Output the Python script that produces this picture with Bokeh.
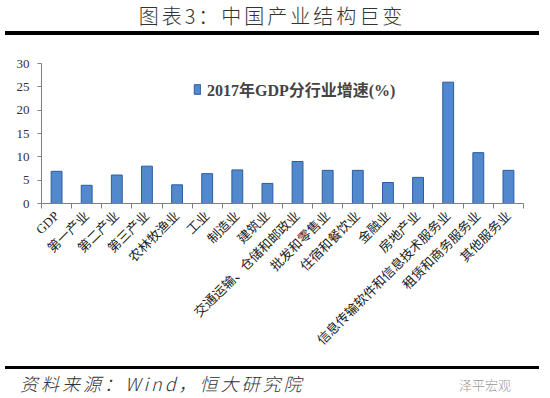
import math
from bokeh.plotting import figure
from bokeh.models import Div, FixedTicker, Range1d, Legend, LegendItem, ColumnDataSource
from bokeh.layouts import column
from bokeh.embed import file_html
from bokeh.resources import INLINE

categories = ["GDP", "第一产业", "第二产业", "第三产业", "农林牧渔业", "工业", "制造业", "建筑业",
              "交通运输、仓储和邮政业", "批发和零售业", "住宿和餐饮业", "金融业", "房地产业",
              "信息传输软件和信息技术服务业", "租赁和商务服务业", "其他服务业"]
values = [6.9, 3.9, 6.1, 8.0, 4.0, 6.4, 7.2, 4.3, 9.0, 7.1, 7.1, 4.5, 5.6, 26.0, 10.9, 7.1]
series_name = "2017年GDP分行业增速(%)"
y_ticks = [0, 5, 10, 15, 20, 25, 30]
title_text = "图表3：中国产业结构巨变"
source_text = "资料来源：Wind，恒大研究院"
watermark = "泽平宏观"

n = len(categories)
xs = list(range(n))

W = 534
title_div = Div(text=title_text, width=W, height=30,
                styles={"font-family": "'Noto Sans CJK SC'", "font-size": "20px", "color": "#333",
                        "text-align": "center", "letter-spacing": "3px", "line-height": "22px",
                        "border-bottom": "4px solid #000", "box-sizing": "border-box",
                        "width": f"{W}px", "height": "30px", "font-weight": "300"})

p = figure(width=W, height=321, output_backend="svg", toolbar_location=None,
           x_range=Range1d(-0.5, n - 0.5), y_range=Range1d(0, 30),
           min_border_left=41, min_border_right=11, min_border_top=23, min_border_bottom=158)
p.outline_line_color = None
p.xgrid.visible = False
p.ygrid.visible = False

src = ColumnDataSource(dict(x=xs, top=values))
r = p.vbar(x="x", top="top", width=0.36, bottom=0, source=src,
           fill_color="#5288CC", line_color="#2A5CA3", line_width=1)

# y axis
p.yaxis.ticker = FixedTicker(ticks=y_ticks)
p.yaxis.axis_line_color = "#808080"
p.yaxis.major_tick_line_color = "#808080"
p.yaxis.major_tick_out = 4
p.yaxis.major_tick_in = 0
p.yaxis.minor_tick_line_color = None
p.yaxis.major_label_text_font = "Liberation Serif"
p.yaxis.major_label_text_font_size = "13px"
p.yaxis.major_label_text_color = "#333"
p.yaxis.major_label_standoff = 8

# x axis: labels at centers, tick marks at category boundaries
p.xaxis.ticker = FixedTicker(ticks=xs, minor_ticks=[i - 0.5 for i in range(n + 1)])
p.xaxis.major_label_overrides = {i: c for i, c in zip(xs, categories)}
p.xaxis.major_label_orientation = math.pi / 4
p.xaxis.major_tick_line_color = None
p.xaxis.minor_tick_line_color = "#808080"
p.xaxis.minor_tick_out = 5
p.xaxis.minor_tick_in = 0
p.xaxis.axis_line_color = "#808080"
p.xaxis.major_label_text_font = "Liberation Serif, Noto Sans CJK SC"
p.xaxis.major_label_text_font_size = "13px"
p.xaxis.major_label_text_color = "#222"
p.xaxis.major_label_standoff = 4

legend = Legend(items=[LegendItem(label=series_name, renderers=[r])],
                location=(152, 102), border_line_color=None, background_fill_alpha=0,
                label_text_font="Liberation Serif, Noto Sans CJK SC", label_text_font_style="bold",
                label_text_font_size="16px", glyph_width=8, glyph_height=12, label_standoff=6,
                padding=0, margin=0)
p.add_layout(legend)

footer = Div(text=f'<span style="font-style:italic; letter-spacing:3px;">{source_text}</span>'
                  f'<span style="position:absolute; right:28px; top:4px; font-size:13px; color:#999; font-style:normal;">{watermark}</span>',
             width=W, height=30,
             styles={"font-family": "'Noto Sans CJK SC'", "font-size": "18px", "color": "#333",
                     "border-top": "3px solid #000", "box-sizing": "border-box", "padding-left": "15px",
                     "padding-top": "2px",
                     "width": f"{W}px", "height": "30px", "line-height": "24px", "position": "relative",
                     "font-weight": "300"})

layout = column(title_div, p, footer, spacing=0)
open("out.html", "w").write(file_html(layout, INLINE))
